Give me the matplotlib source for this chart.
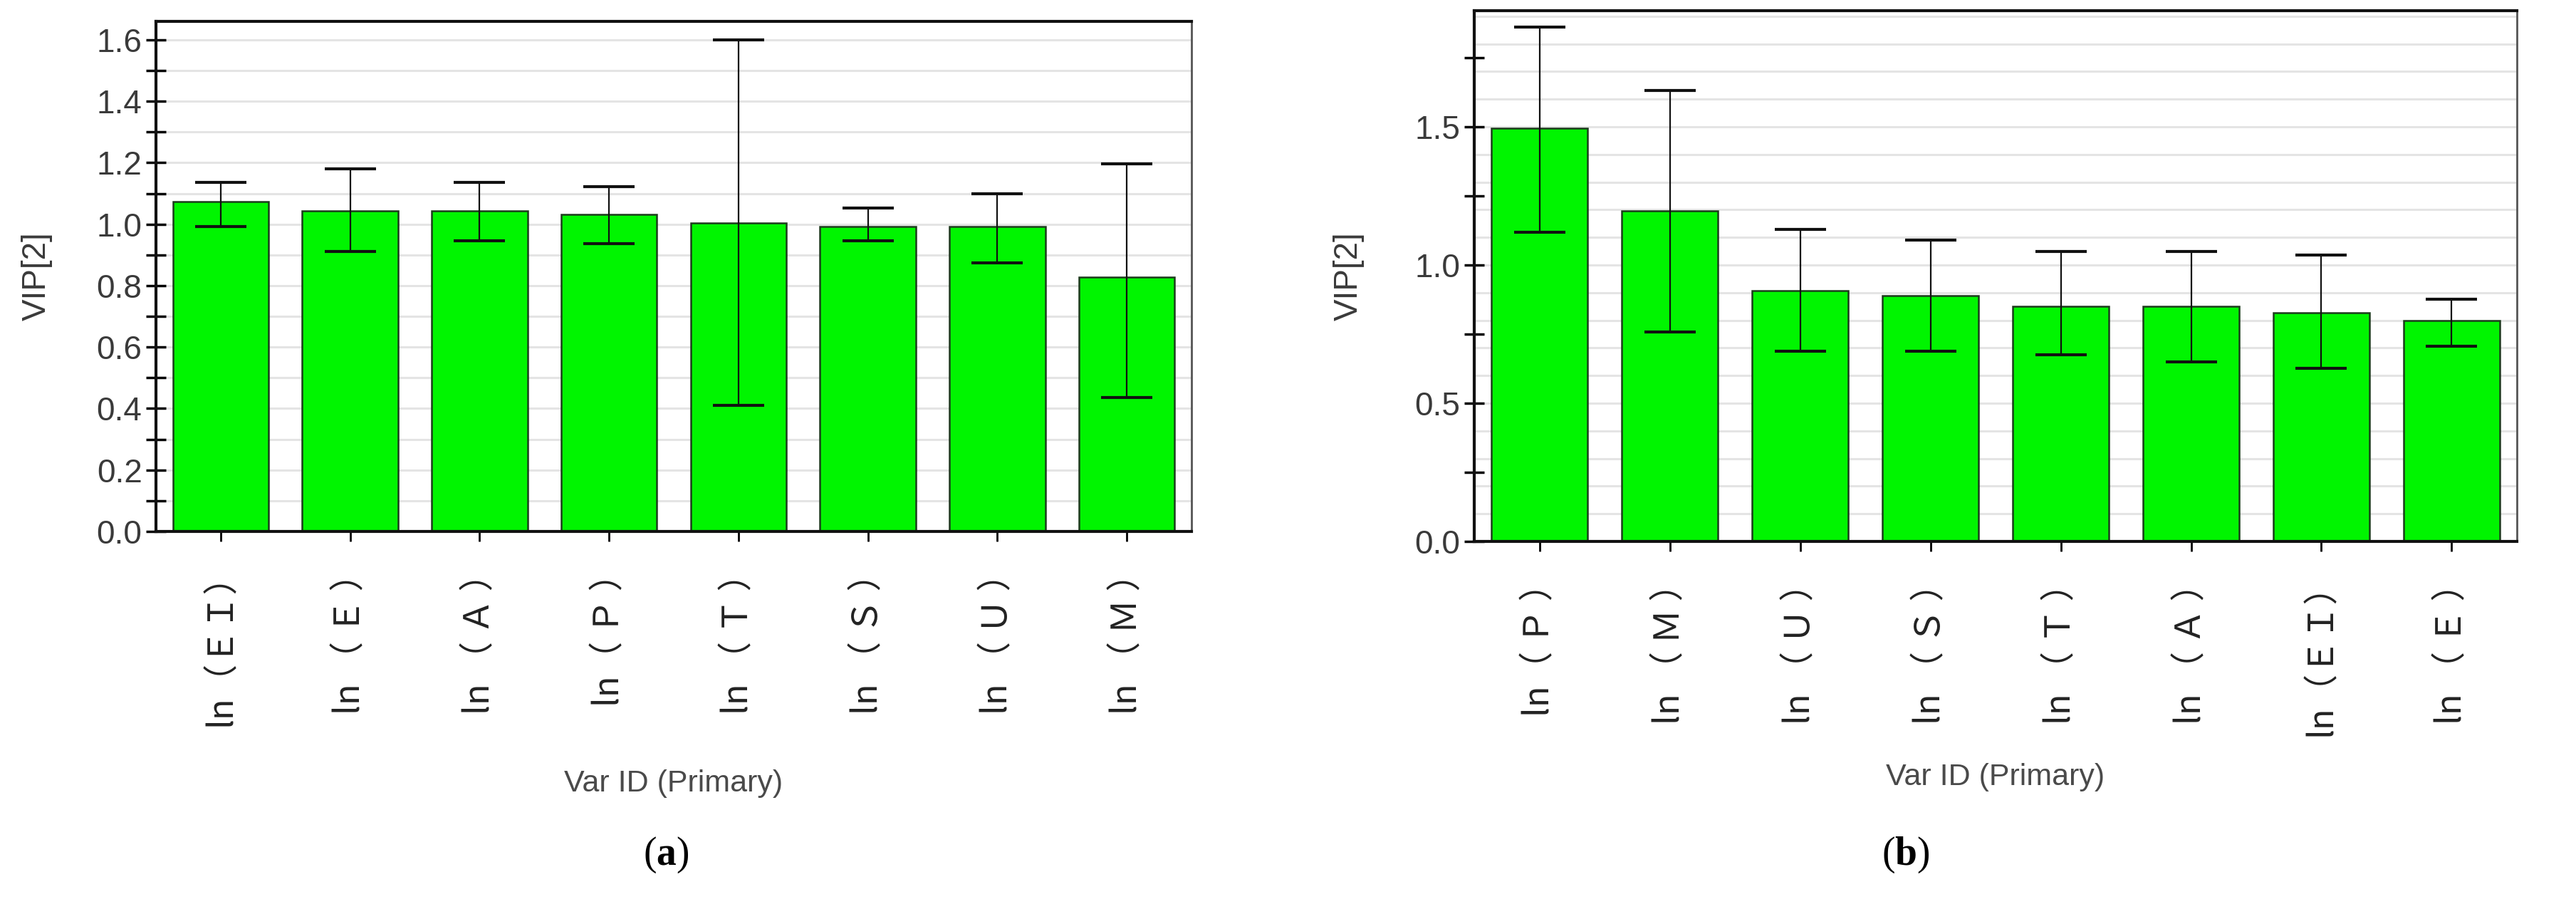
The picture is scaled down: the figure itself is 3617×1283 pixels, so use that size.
import numpy as np
import matplotlib
matplotlib.use('Agg')
import matplotlib.pyplot as plt
from matplotlib.ticker import MultipleLocator

plt.rcParams['font.family'] = ['Liberation Sans', 'DejaVu Sans']
plt.rcParams['mathtext.fontset'] = 'custom'
plt.rcParams['mathtext.rm'] = 'Liberation Serif'
plt.rcParams['mathtext.bf'] = 'Liberation Serif:bold'

# (a) VIP[2] 值及置信区间上下端
labels_a = ['ln（ＥＩ）', 'ln （ Ｅ ）', 'ln （ Ａ ）', 'ln（ Ｐ ）', 'ln （ Ｔ ）', 'ln （ Ｓ ）', 'ln （ Ｕ ）', 'ln （ Ｍ ）']
vip_a = [1.074, 1.043, 1.043, 1.031, 1.005, 0.993, 0.993, 0.827]
lo_a = [0.993, 0.910, 0.946, 0.936, 0.410, 0.946, 0.874, 0.437]
hi_a = [1.136, 1.180, 1.136, 1.122, 1.600, 1.053, 1.100, 1.196]

# (b)
labels_b = ['ln（ Ｐ ）', 'ln （ Ｍ ）', 'ln （ Ｕ ）', 'ln （ Ｓ ）', 'ln （ Ｔ ）', 'ln （ Ａ ）', 'ln（ＥＩ）', 'ln （ Ｅ ）']
vip_b = [1.496, 1.197, 0.906, 0.890, 0.851, 0.851, 0.827, 0.798]
lo_b = [1.119, 0.758, 0.689, 0.689, 0.676, 0.649, 0.626, 0.705]
hi_b = [1.862, 1.631, 1.128, 1.089, 1.049, 1.049, 1.036, 0.877]

W, H = 3617, 1283
fig = plt.figure(figsize=(W / 100, H / 100), dpi=100)

def draw_panel(rect, labels, vip, lo, hi, ytop, major, minor, lab_y):
    ax = fig.add_axes(rect)
    x = np.arange(len(labels))
    vip = np.array(vip)
    yerr = [vip - np.array(lo), np.array(hi) - vip]
    # 背景网格线
    for g in np.arange(0.1, ytop, 0.1):
        ax.axhline(g, color='#e4e4e4', lw=2.2, zorder=0)
    ax.bar(x, vip, width=0.74, color='#00f500', edgecolor='#1c3a1c', linewidth=1.8, zorder=2)
    ax.errorbar(x, vip, yerr=yerr, fmt='none', ecolor='#111111', elinewidth=1.6,
                capsize=26, capthick=3, zorder=3)
    ax.set_xlim(-0.5, len(labels) - 0.5)
    ax.set_ylim(0, ytop)
    ax.yaxis.set_major_locator(MultipleLocator(major))
    ax.yaxis.set_minor_locator(MultipleLocator(minor))
    ax.set_xticks(x)
    ax.set_xticklabels(labels, rotation=90, family=['Noto Sans CJK SC', 'DejaVu Sans'],
                       fontsize=35, color='#222222')
    ax.tick_params(axis='y', which='both', direction='inout', length=20, width=2.5,
                   labelsize=33, labelcolor='#3a3a3a', pad=4)
    ax.tick_params(axis='x', direction='inout', length=20, width=2, pad=15)
    for s in ['left', 'top', 'bottom']:
        ax.spines[s].set_linewidth(3)
        ax.spines[s].set_color('#111111')
    ax.spines['right'].set_linewidth(2)
    ax.spines['right'].set_color('#555555')
    ax.set_ylabel('VIP[2]', fontsize=33, color='#3a3a3a')
    ax.yaxis.set_label_coords(-0.1, 0.5)
    ax.set_xlabel('Var ID (Primary)', fontsize=31, color='#4a4a4a', va='top')
    ax.xaxis.set_label_coords(0.5, lab_y)
    return ax

ax1 = draw_panel([219 / W, 1 - 746 / H, 1454 / W, 716 / H], labels_a, vip_a, lo_a, hi_a,
                 1.66, 0.2, 0.1, -0.466)
ax2 = draw_panel([2070 / W, 1 - 760 / H, 1464 / W, 745 / H], labels_b, vip_b, lo_b, hi_b,
                 1.92, 0.5, 0.25, -0.417)
ax2.yaxis.set_label_coords(-0.105, 0.5)

fig.text(935 / W, 1 - 1200 / H, r'($\mathbf{a}$)', ha='center', va='center', fontsize=40,
         family='Liberation Serif')
fig.text(2676 / W, 1 - 1200 / H, r'($\mathbf{b}$)', ha='center', va='center', fontsize=40,
         family='Liberation Serif')

fig.savefig('out.png', dpi=100)
